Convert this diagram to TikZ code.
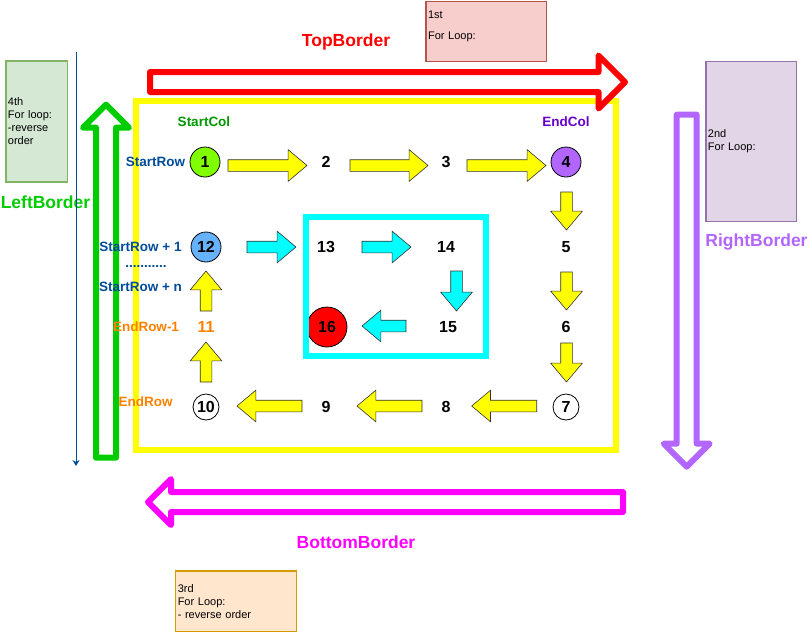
\documentclass[tikz,border=0pt]{standalone}
\usepackage{fontspec}
\setmainfont{Liberation Sans}
\usetikzlibrary{shapes.arrows,arrows.meta,calc}

\definecolor{cred}{HTML}{FF0000}
\definecolor{cvert}{HTML}{00CC00}
\definecolor{cvertf}{HTML}{009900}
\definecolor{cviolet}{HTML}{B266FF}
\definecolor{cvioletf}{HTML}{6600CC}
\definecolor{cmagenta}{HTML}{FF00FF}
\definecolor{corange}{HTML}{FF8000}
\definecolor{cbleuf}{HTML}{004C99}
\definecolor{cbleu}{HTML}{66B2FF}
\definecolor{cun}{HTML}{80FF00}
\definecolor{cjaune}{HTML}{FFFF00}
\definecolor{ccyan}{HTML}{00FFFF}
\definecolor{rosefond}{HTML}{F8CECC}
\definecolor{rosebord}{HTML}{B85450}
\definecolor{vertfond}{HTML}{D5E8D4}
\definecolor{vertbord}{HTML}{82B366}
\definecolor{violfond}{HTML}{E1D5E7}
\definecolor{violbord}{HTML}{9673A6}
\definecolor{orfond}{HTML}{FFE6CC}
\definecolor{orbord}{HTML}{D79B00}

\begin{document}
\begin{tikzpicture}[x=1pt,y=-1pt,
  num/.style={font=\fontsize{16}{16}\selectfont\bfseries},
  rond/.style={circle, draw=black, line width=0.8pt, inner sep=0pt, minimum size=30pt, num},
  lbl/.style={font=\fontsize{13.5}{14}\selectfont\bfseries},
  bord/.style={font=\fontsize{17.5}{18}\selectfont\bfseries},
  boite/.style={line width=1.2pt, align=left, inner sep=2pt, font=\fontsize{11}{13}\selectfont},
  fleche/.style={single arrow, draw=black!80, line width=0.6pt, inner sep=5.5pt, outer sep=0pt,
    single arrow head extend=10pt, single arrow tip angle=80, anchor=tail},
  fjaune/.style={fleche, fill=cjaune},
  fcyan/.style={fleche, fill=ccyan},
  grosse/.style={single arrow, fill=white, line width=6pt, line join=round, inner sep=7pt,
    outer sep=0pt, single arrow head extend=13pt, anchor=tail}]

  \useasboundingbox (0,0) rectangle (809,633);

     % Boucles
  \node[boite, draw=rosebord, fill=rosefond, text width=116.7pt, minimum height=60pt] (b1) at (486.4,31.7) {1st\\[8.5pt]For Loop:\\\mbox{}};
  \node[boite, draw=violbord, fill=violfond, text width=86.7pt, minimum height=160.4pt] (b2) at (751.3,141.5) {2nd\\For Loop:};
  \node[boite, draw=orbord, fill=orfond, text width=116.9pt, minimum height=60.7pt] (b3) at (236.2,601.3) {3rd\\For Loop:\\- reverse order};
  \node[boite, draw=vertbord, fill=vertfond, text width=57.3pt, minimum height=121pt] (b4) at (36.6,121.5) {4th\\For loop:\\-reverse\\order};

     % Bords
  \node[bord, cred] (tb) at (346,42) {TopBorder};
  \node[bord, cvert] (lb) at (45.5,202) {LeftBorder};
  \node[bord, cviolet] (rb) at (756.5,242) {RightBorder};
  \node[bord, cmagenta] (bb) at (356,542) {BottomBorder};

  \draw[cjaune, line width=6pt] (136,101) rectangle (616,450);

  \node[grosse, draw=cred, minimum height=475pt, single arrow head extend=16.5pt] (top) at (150,82) {};
  \node[grosse, draw=cvert, minimum height=353pt, rotate=90] (left) at (106,457.7) {};
  \node[grosse, draw=cviolet, minimum height=352pt, rotate=-90] (right) at (686.7,114.7) {};
  \node[grosse, draw=cmagenta, minimum height=475pt, rotate=180] (bottom) at (623,502) {};

     % Cases
  \node[rond, fill=cun] (n1) at (205,162) {1};
  \node[num] (n2) at (326,162) {2};
  \node[num] (n3) at (446,162) {3};
  \node[rond, fill=cviolet] (n4) at (566,162) {4};
  \node[num] (n5) at (566,247) {5};
  \node[num] (n6) at (566,327) {6};
  \node[rond, fill=white, minimum size=26pt] (n7) at (566,407) {7};
  \node[num] (n8) at (446,407) {8};
  \node[num] (n9) at (326,407) {9};
  \node[rond, fill=white, minimum size=26pt] (n10) at (206,407) {10};
  \node[num, corange] (n11) at (206,327) {11};
  \node[rond, fill=cbleu] (n12) at (206,247) {12};
  \node[num] (n13) at (326,247) {13};
  \node[num] (n14) at (446,247) {14};
  \node[num] (n15) at (448,327) {15};
  \node[rond, fill=cred, minimum size=40pt] (n16) at (327,327) {16};

  \draw[ccyan, line width=6.5pt] (306,217) rectangle (486,356);

     % Parcours
  \node[fjaune, minimum height=79pt] (f12) at ($(n1)+(23,3.5)$) {};
  \node[fjaune, minimum height=78pt] (f23) at ($(n2)+(24,3.5)$) {};
  \node[fjaune, minimum height=79pt] (f34) at ($(n3)+(21,3.5)$) {};
  \node[fjaune, minimum height=38pt, rotate=-90] (f45) at ($(n4)+(0.5,30)$) {};
  \node[fjaune, minimum height=38pt, rotate=-90] (f56) at ($(n5)+(0.5,25)$) {};
  \node[fjaune, minimum height=39pt, rotate=-90] (f67) at ($(n6)+(0.5,16)$) {};
  \node[fjaune, minimum height=65pt, rotate=180] (f78) at ($(n7)+(-29.3,-1)$) {};
  \node[fjaune, minimum height=65pt, rotate=180] (f89) at ($(n8)+(-24,-1)$) {};
  \node[fjaune, minimum height=65pt, rotate=180] (f910) at ($(n9)+(-24,-1)$) {};
  \node[fjaune, minimum height=40pt, rotate=90] (f1011) at ($(n10)+(0,-25)$) {};
  \node[fjaune, minimum height=40pt, rotate=90] (f1112) at ($(n11)+(0,-16)$) {};
  \node[fcyan, minimum height=49pt] (f1213) at ($(n12)+(41,0)$) {};
  \node[fcyan, minimum height=49pt] (f1314) at ($(n13)+(36,0)$) {};
  \node[fcyan, minimum height=40pt, rotate=-90] (f1415) at ($(n14)+(10.5,24)$) {};
  \node[fcyan, minimum height=44pt, rotate=180] (f1516) at ($(n15)+(-42,-1)$) {};

     % Indices
  \node[lbl, cvertf] (sc) at (204,122) {StartCol};
  \node[lbl, cvioletf] (ec) at (566,122) {EndCol};
  \node[lbl, cbleuf] (sr) at (155.5,162) {StartRow};
  \node[lbl, cbleuf] (sr1) at (140.5,247) {StartRow + 1};
  \node[lbl, cbleuf] (pts) at (146,266) {...........};
  \node[lbl, cbleuf] (srn) at (140.5,287) {StartRow + n};
  \node[lbl, corange] (er1) at (146,327) {EndRow-1};
  \node[lbl, corange] (er) at (145.5,402) {EndRow};

  \coordinate (h) at (76,52);
  \coordinate (b) at (76,466);
  \draw[cbleuf, line width=1pt, -{Stealth[length=6pt,width=7pt]}] (h) -- (b);

\end{tikzpicture}
\end{document}
